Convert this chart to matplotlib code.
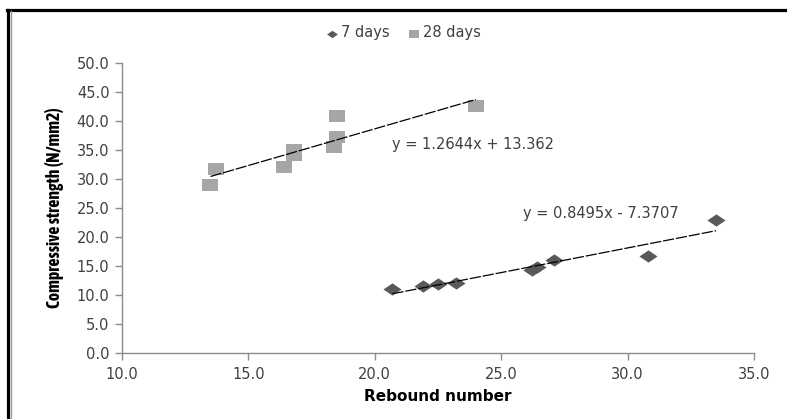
import matplotlib
matplotlib.use("Agg")
import matplotlib.pyplot as plt
from matplotlib.lines import Line2D
from matplotlib import font_manager
import numpy as np

# ---- data ----
rebound_7 = [20.7, 21.9, 22.5, 23.2, 26.2, 26.4, 27.1, 30.8, 33.5]
strength_7 = [11.1, 11.6, 11.9, 12.0, 14.3, 14.9, 16.1, 16.8, 22.9]
rebound_28 = [13.5, 13.7, 16.4, 16.8, 16.8, 18.4, 18.5, 18.5, 24.0]
strength_28 = [29.0, 31.8, 32.1, 34.2, 35.0, 35.6, 37.2, 40.9, 42.5]
fit_7 = (0.8495, -7.3707)
fit_28 = (1.2644, 13.362)
eq_7 = "y = 0.8495x - 7.3707"
eq_28 = "y = 1.2644x + 13.362"
series_labels = ["7 days", "28 days"]
x_ticks = [10.0, 15.0, 20.0, 25.0, 30.0, 35.0]
y_ticks = [0.0, 5.0, 10.0, 15.0, 20.0, 25.0, 30.0, 35.0, 40.0, 45.0, 50.0]

c7 = "#595959"
c28 = "#A6A6A6"
axis_col = "#8C8C8C"
text_col = "#404040"

# find a narrow / condensed bold font if one is installed
narrow_family = None
narrow_stretch = "normal"
for f in font_manager.fontManager.ttflist:
    nm = f.name.lower()
    if ("narrow" in nm or "condensed" in nm) and f.weight in ("bold", 700):
        narrow_family = f.name
        break
if narrow_family is None:
    for f in font_manager.fontManager.ttflist:
        if f.stretch in ("condensed", "semi-condensed", 375, 437) or \
           (isinstance(f.stretch, str) and "condensed" in f.stretch):
            narrow_family = f.name
            narrow_stretch = f.stretch
            break

diamond = [(-1, 0), (0, 0.68), (1, 0), (0, -0.68), (-1, 0)]
rect = [(-1, -0.72), (1, -0.72), (1, 0.72), (-1, 0.72), (-1, -0.72)]

fig = plt.figure(figsize=(7.87, 4.19), dpi=100)
ax = fig.add_axes([122 / 787, 1 - 353 / 419, (754 - 122) / 787, (353 - 63) / 419])

ax.scatter(rebound_7, strength_7, marker=diamond, s=13 ** 2, color=c7,
           linewidths=0, label=series_labels[0], zorder=3)
ax.scatter(rebound_28, strength_28, marker=rect, s=12 ** 2, color=c28,
           linewidths=0, label=series_labels[1], zorder=3)

for xs, (m, b) in ((rebound_7, fit_7), (rebound_28, fit_28)):
    xl = np.array([min(xs), max(xs)])
    ax.plot(xl, m * xl + b, color="black", lw=0.9, ls=(0, (9, 1.5)), zorder=4)

ax.text(20.7, 35.9, eq_28, ha="left", va="center", fontsize=10.5, color=text_col)
ax.text(25.85, 24.0, eq_7, ha="left", va="center", fontsize=10.5, color=text_col)

ax.set_xlim(10, 35)
ax.set_ylim(0, 50)
ax.set_xticks(x_ticks)
ax.set_yticks(y_ticks)
ax.set_xticklabels([f"{v:.1f}" for v in x_ticks])
ax.set_yticklabels([f"{v:.1f}" for v in y_ticks])
for s in ("top", "right"):
    ax.spines[s].set_visible(False)
for s in ("left", "bottom"):
    ax.spines[s].set_color(axis_col)
    ax.spines[s].set_linewidth(1.0)
ax.tick_params(axis="both", direction="out", length=5, width=1.0, color=axis_col,
               labelsize=10.5, labelcolor=text_col)
ax.tick_params(axis="x", pad=5)
ax.tick_params(axis="y", pad=4)

ax.set_xlabel("Rebound number", fontsize=11, fontweight="bold", color="black",
              labelpad=5)
if narrow_family is not None:
    ax.set_ylabel("Compressive strength (N/mm2)", fontsize=12.7, fontweight="bold",
                  family=[narrow_family, "DejaVu Sans"], fontstretch=narrow_stretch,
                  color="black", labelpad=9)
else:
    ax.set_ylabel("Compressive strength (N/mm2)", fontsize=8.6, fontweight="bold",
                  color="black", labelpad=9)

leg = fig.legend(loc="center", bbox_to_anchor=(403 / 787, 1 - 33 / 419), ncol=2,
                 frameon=False, fontsize=10.5, markerscale=0.6, handletextpad=0.1,
                 columnspacing=1.2, handlelength=1.0)
for t in leg.get_texts():
    t.set_color(text_col)

# figure border (top and left heavy lines)
fig.add_artist(Line2D([7 / 787, 1.0], [1 - 10 / 419, 1 - 10 / 419], color="black",
                      lw=2.3, transform=fig.transFigure))
fig.add_artist(Line2D([8 / 787, 8 / 787], [0, 1 - 10 / 419], color="black",
                      lw=2.3, transform=fig.transFigure))
fig.add_artist(Line2D([10.5 / 787, 10.5 / 787], [0, 1 - 11.5 / 419], color="#999999",
                      lw=1.0, transform=fig.transFigure))

fig.savefig("out.png", dpi=100)
